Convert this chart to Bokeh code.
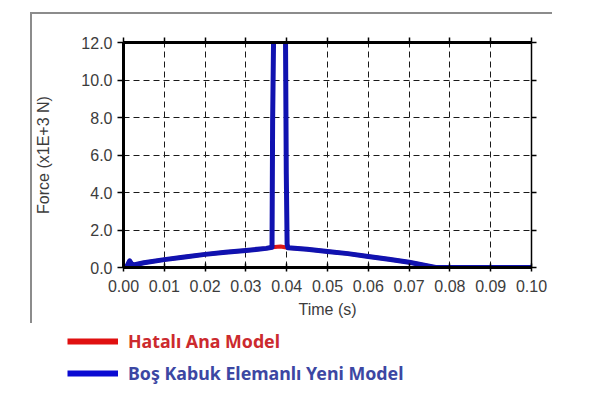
from bokeh.plotting import figure
from bokeh.layouts import column
from bokeh.models import Range1d, FixedTicker, LinearAxis, Legend, LegendItem
from bokeh.embed import file_html
from bokeh.resources import INLINE

# ---- data (time in s, force in x1E+3 N) ----
blue_t = [0.0, 0.0008, 0.0015, 0.0022, 0.005, 0.01, 0.015, 0.02, 0.025, 0.03,
          0.035, 0.0364, 0.03655, 0.0368, 0.0369, 0.0396, 0.0397, 0.0399,
          0.0401, 0.0403, 0.045, 0.05, 0.055, 0.06, 0.065, 0.07, 0.0765, 0.08,
          0.09, 0.1]
blue_f = [0.0, 0.05, 0.36, 0.12, 0.25, 0.42, 0.56, 0.70, 0.81, 0.91,
          1.02, 1.08, 7.8, 12.5, 14.0, 14.0, 12.5, 5.0,
          1.25, 1.05, 0.97, 0.85, 0.74, 0.59, 0.44, 0.28, 0.0, 0.0,
          0.0, 0.0]
red_t = [0.0, 0.0008, 0.0015, 0.0022, 0.005, 0.01, 0.015, 0.02, 0.025, 0.03,
         0.035, 0.0364, 0.0385, 0.0403, 0.045, 0.05, 0.055, 0.06, 0.065, 0.07,
         0.0765, 0.08, 0.09, 0.1]
red_f = [0.0, 0.05, 0.36, 0.12, 0.25, 0.42, 0.56, 0.70, 0.81, 0.91,
         1.02, 1.08, 1.12, 1.05, 0.97, 0.85, 0.74, 0.59, 0.44, 0.28,
         0.0, 0.0, 0.0, 0.0]

x_ticks = [0.0, 0.01, 0.02, 0.03, 0.04, 0.05, 0.06, 0.07, 0.08, 0.09, 0.1]
x_tick_labels = ["0.00", "0.01", "0.02", "0.03", "0.04", "0.05", "0.06",
                 "0.07", "0.08", "0.09", "0.10"]
y_ticks = [0, 2, 4, 6, 8, 10, 12]
y_tick_labels = ["0.0", "2.0", "4.0", "6.0", "8.0", "10.0", "12.0"]

series_names = ["Hatalı Ana Model", "Boş Kabuk Elemanlı Yeni Model"]
x_title = "Time (s)"
y_title = "Force (x1E+3 N)"

# ---- styles ----
RED = "#dc1818"
BLUE = "#1012b0"
TXT = "#3c3c3c"
FONT = "Liberation Sans"
FRAME_GRAY = "#8c8c8c"

fig = figure(width=601, height=323, output_backend="svg", toolbar_location=None,
             x_range=Range1d(0, 0.1), y_range=Range1d(0, 12),
             x_axis_location=None, y_axis_location=None)
fig.min_border_left = 123
fig.min_border_right = 70
fig.min_border_top = 42
fig.min_border_bottom = 56
fig.outline_line_color = None
fig.background_fill_color = "white"
fig.border_fill_color = None
# light gray L-shaped frame (left and top edges) behind the canvas
fig.styles = {
    "background": (f"linear-gradient({FRAME_GRAY},{FRAME_GRAY}) 30px 12px / 2px 311px no-repeat, "
                   f"linear-gradient({FRAME_GRAY},{FRAME_GRAY}) 30px 12px / 522px 2px no-repeat, "
                   "#ffffff")
}

def style_axis(ax):
    ax.axis_line_color = "black"
    ax.major_tick_line_color = "black"
    ax.minor_tick_line_color = None
    ax.major_label_text_font = FONT
    ax.major_label_text_font_size = "16px"
    ax.major_label_text_color = TXT
    ax.axis_label_text_font = FONT
    ax.axis_label_text_font_size = "16px"
    ax.axis_label_text_font_style = "normal"
    ax.axis_label_text_color = TXT

bottom = LinearAxis(ticker=FixedTicker(ticks=x_ticks),
                    major_label_overrides=dict(zip(x_ticks, x_tick_labels)),
                    axis_label=x_title)
style_axis(bottom)
bottom.axis_line_width = 3
bottom.major_tick_in = 4
bottom.major_tick_out = 4
bottom.major_tick_line_width = 1.5
bottom.major_label_standoff = 8
bottom.axis_label_standoff = 6
fig.add_layout(bottom, "below")

left = LinearAxis(ticker=FixedTicker(ticks=y_ticks),
                  major_label_overrides=dict(zip(y_ticks, y_tick_labels)),
                  axis_label=y_title)
style_axis(left)
left.axis_line_width = 3
left.major_tick_in = 0
left.major_tick_out = 6
left.major_tick_line_width = 1.5
left.major_label_standoff = 5
left.axis_label_standoff = 26
fig.add_layout(left, "left")

top = LinearAxis(ticker=FixedTicker(ticks=x_ticks))
style_axis(top)
top.major_label_text_color = None
top.major_label_text_font_size = "1px"
top.axis_line_width = 3
top.major_tick_in = 0
top.major_tick_out = 5
top.major_tick_line_width = 1.5
fig.add_layout(top, "above")

right = LinearAxis(ticker=FixedTicker(ticks=y_ticks))
style_axis(right)
right.major_label_text_color = None
right.major_label_text_font_size = "1px"
right.axis_line_width = 1.5
right.major_tick_in = 0
right.major_tick_out = 5
right.major_tick_line_width = 1.5
fig.add_layout(right, "right")

fig.xgrid.ticker = FixedTicker(ticks=x_ticks)
fig.ygrid.ticker = FixedTicker(ticks=y_ticks)
for g in (fig.xgrid, fig.ygrid):
    g.grid_line_color = "#1a1a1a"
    g.grid_line_width = 1
    g.grid_line_dash = "6 4"

fig.line(red_t, red_f, line_color=RED, line_width=4)
fig.line(blue_t, blue_f, line_color=BLUE, line_width=5, line_join="round", line_cap="round")

# ---- legend strip below the chart ----
# (its ranges lie outside the data, so only the legend itself shows)
leg = figure(width=601, height=72, output_backend="svg", toolbar_location=None,
             x_axis_location=None, y_axis_location=None,
             x_range=Range1d(1, 2), y_range=Range1d(100, 200))
leg.min_border = 0
leg.min_border_left = 0
leg.min_border_right = 0
leg.min_border_top = 0
leg.min_border_bottom = 0
leg.outline_line_color = None
leg.xgrid.visible = False
leg.ygrid.visible = False
leg.background_fill_color = "white"
leg.border_fill_color = "white"
for f in (fig, leg):
    try:
        f.frame_align = False
    except Exception:
        pass

r_leg = leg.line(red_t, red_f, line_color="#e01010", line_width=6)
b_leg = leg.line(blue_t, blue_f, line_color="#0a0ad2", line_width=6)

def make_legend(renderer, label, color, loc):
    lg = Legend(items=[LegendItem(label=label, renderers=[renderer])], location=loc)
    lg.border_line_alpha = 0
    lg.background_fill_alpha = 0
    lg.padding = 0
    lg.margin = 0
    lg.glyph_width = 51
    lg.glyph_height = 20
    lg.label_height = 20
    lg.label_standoff = 10
    lg.label_text_font = "Noto Sans"
    lg.label_text_font_style = "bold"
    lg.label_text_font_size = "17.8px"
    lg.label_text_color = color
    return lg

leg.add_layout(make_legend(r_leg, series_names[0], "#cc2a2e", (67, 42)), "center")
leg.add_layout(make_legend(b_leg, series_names[1], "#3c47a3", (67, 10)), "center")

p = column(fig, leg, spacing=0)

open("out.html", "w").write(file_html(p, INLINE))
